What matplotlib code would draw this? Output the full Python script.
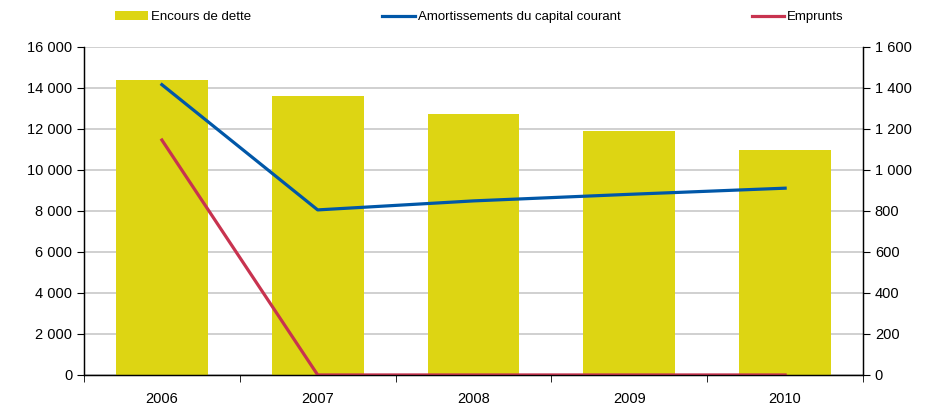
import numpy as np
import matplotlib.pyplot as plt
from matplotlib.ticker import FuncFormatter, MultipleLocator

plt.rcParams['font.family'] = ['Liberation Sans', 'DejaVu Sans']

years = ['2006', '2007', '2008', '2009', '2010']
encours = [14400, 13620, 12730, 11900, 10980]
amortissements = [1416, 805, 849, 881, 911]
emprunts = [1146, 0, 0, 0, 0]

c_bar = '#DDD513'
c_blue = '#0057A8'
c_red = '#C8334F'

def fmt(v, pos):
    return '{:,.0f}'.format(v).replace(',', ' ')

fig = plt.figure(figsize=(9.33, 4.08), dpi=100)
ax = fig.add_axes([0.090, 0.081, 0.835, 0.804])
ax2 = ax.twinx()

x = np.arange(len(years))
ax.bar(x, encours, width=0.59, color=c_bar, zorder=2, label='Encours de dette')
ax2.plot(x, amortissements, color=c_blue, lw=2.3, label='Amortissements du capital courant')
ax2.plot(x, emprunts, color=c_red, lw=2.3, label='Emprunts')

ax.set_xlim(-0.5, len(years) - 0.5)
ax.set_ylim(0, 16000)
ax2.set_ylim(0, 1600)
ax.yaxis.set_major_locator(MultipleLocator(2000))
ax2.yaxis.set_major_locator(MultipleLocator(200))
ax.yaxis.set_major_formatter(FuncFormatter(fmt))
ax2.yaxis.set_major_formatter(FuncFormatter(fmt))

ax.set_xticks(x)
ax.set_xticklabels(years)
ax.set_xticks(np.arange(len(years) + 1) - 0.5, minor=True)
ax.tick_params(axis='x', which='major', length=0, pad=12, labelsize=10.5)
ax.tick_params(axis='x', which='minor', length=5, direction='out')
ax.tick_params(axis='y', length=5, labelsize=10.5)
ax2.tick_params(axis='y', length=5, labelsize=10.5)

ax.grid(axis='y', color='#C8C8C8', lw=1.2, zorder=0)
ax.set_axisbelow(True)
for a in (ax, ax2):
    a.spines['top'].set_visible(False)
    for s in ('left', 'right', 'bottom'):
        a.spines[s].set_linewidth(0.9)

h1, l1 = ax.get_legend_handles_labels()
h2, l2 = ax2.get_legend_handles_labels()
fig.legend(h1 + h2, l1 + l2, loc='lower left', bbox_to_anchor=(0.118, 0.93, 0.792, 0.05),
           mode='expand', ncol=3, frameon=False, fontsize=9.5,
           handlelength=2.5, handleheight=0.7, handletextpad=0.2, borderaxespad=0)

fig.savefig('out.png', dpi=100)
